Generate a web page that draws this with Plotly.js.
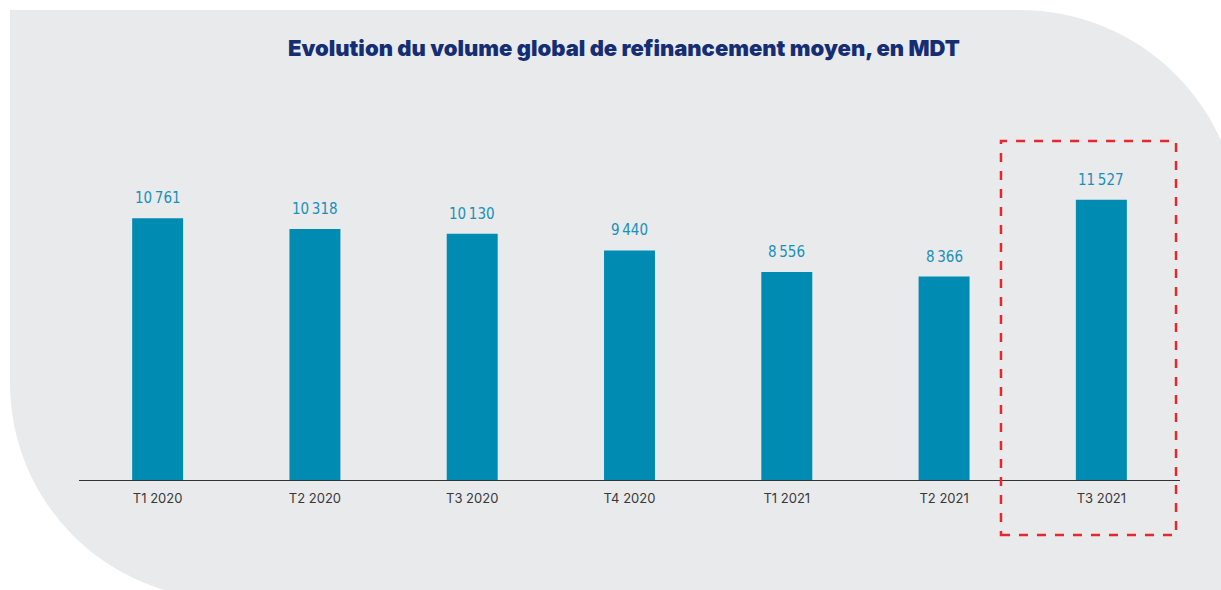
<!DOCTYPE html>
<html>
<head>
<meta charset="utf-8">
<script src="https://cdn.plot.ly/plotly-3.0.1.min.js"></script>
<style>
    html, body { margin: 0; padding: 0; background: #ffffff; overflow: hidden; }
    #card {
        position: absolute; left: 10px; top: 10px; width: 1230px; height: 589px;
        background: #e9eaec;
        border-radius: 0 220px 0 216px;
    }
    #plot { position: absolute; left: 0; top: 0; width: 1221px; height: 590px; }
</style>
</head>
<body>
<div id="card"></div>
<div id="plot"></div>
<script>
const categories = ['T1 2020', 'T2 2020', 'T3 2020', 'T4 2020', 'T1 2021', 'T2 2021', 'T3 2021'];
const volumes = [10761, 10318, 10130, 9440, 8556, 8366, 11527];

// nombre avec espace fine comme séparateur de milliers
function formatNumber(n) {
    return String(n).replace(/\B(?=(\d{3})+(?!\d))/g, '\u2009');
}

const trace = {
    x: categories,
    y: volumes,
    type: 'bar',
    marker: { color: '#008bb3' },
    hoverinfo: 'none'
};

const labels = categories.map((c, i) => ({
    x: c,
    y: volumes[i],
    text: formatNumber(volumes[i]),
    showarrow: false,
    yanchor: 'bottom',
    yshift: 9,
    font: { family: 'Liberation Sans Narrow, DejaVu Sans Condensed, Roboto', size: 15, color: '#1a8fb8' }
}));

const layout = {
    width: 1221,
    height: 590,
    paper_bgcolor: 'rgba(0,0,0,0)',
    plot_bgcolor: 'rgba(0,0,0,0)',
    margin: { l: 79, r: 41, t: 176, b: 110 },
    bargap: 0.676,
    showlegend: false,
    title: {
        text: 'Evolution du volume global de refinancement moyen, en MDT',
        font: { family: 'Inter, Noto Sans', size: 22, color: '#152e73', weight: 900 },
        x: 0.511,
        xanchor: 'center',
        y: 0.918,
        yanchor: 'middle'
    },
    xaxis: {
        showline: true,
        linecolor: '#333333',
        linewidth: 1.2,
        ticks: '',
        ticklabelstandoff: 6,
        tickfont: { family: 'Inter, Noto Sans', size: 13, color: '#383838' },
        fixedrange: true
    },
    yaxis: {
        range: [0, 12500],
        visible: false,
        fixedrange: true
    },
    annotations: labels,
    shapes: [{
        type: 'rect',
        xref: 'paper', yref: 'paper',
        x0: 0.8374, x1: 0.9964,
        y0: -0.181, y1: 1.115,
        line: { color: '#e8262d', width: 2.5, dash: 'dash' },
        fillcolor: 'rgba(0,0,0,0)'
    }]
};

Plotly.newPlot('plot', [trace], layout, { displayModeBar: false, staticPlot: true });
</script>
</body>
</html>
